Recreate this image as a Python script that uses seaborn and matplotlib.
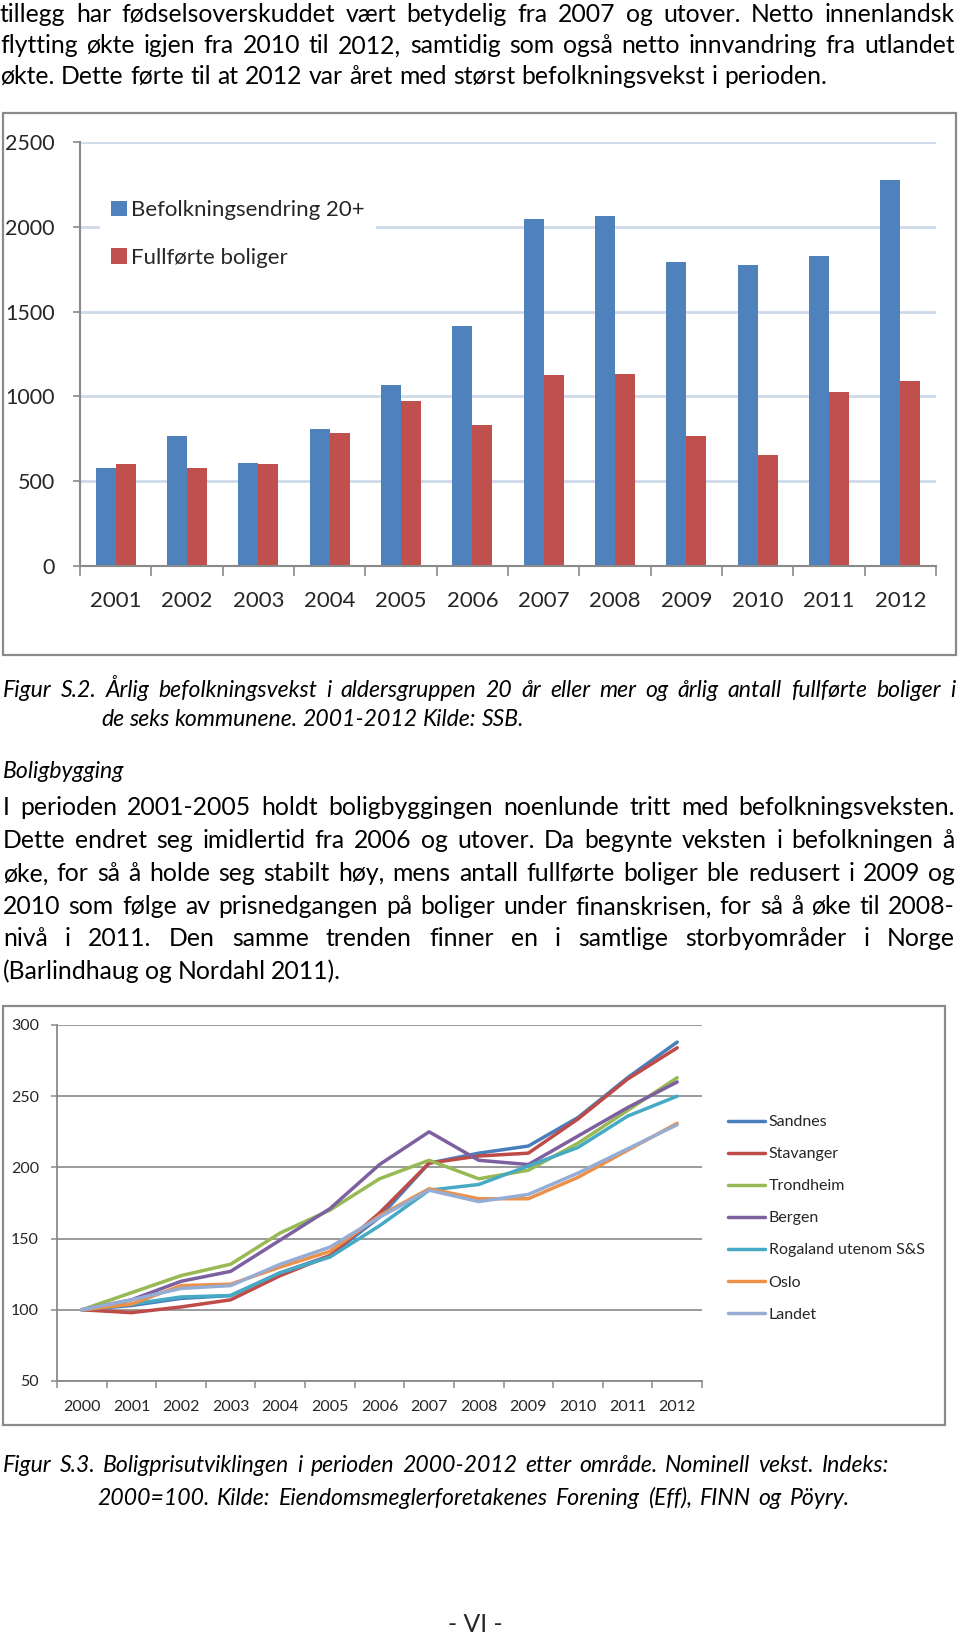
import numpy as np
import pandas as pd
import matplotlib
matplotlib.use("Agg")
import matplotlib.pyplot as plt
import seaborn as sns
from matplotlib.patches import Rectangle

# ---- data: figure S.2 (bars) ----
bar_years = ["2001", "2002", "2003", "2004", "2005", "2006",
             "2007", "2008", "2009", "2010", "2011", "2012"]
befolkning = [580, 765, 610, 810, 1070, 1415, 2045, 2065, 1795, 1775, 1830, 2275]
boliger = [600, 580, 600, 785, 970, 830, 1125, 1135, 765, 657, 1025, 1090]
bar_series = ["Befolkningsendring 20+", "Fullførte boliger"]

# ---- data: figure S.3 (lines), index 2000=100 ----
line_years = [2000, 2001, 2002, 2003, 2004, 2005, 2006,
              2007, 2008, 2009, 2010, 2011, 2012]
sandnes = [100, 103, 108, 110, 126, 138, 165, 203, 210, 215, 235, 263, 288]
stavanger = [100, 98, 102, 107, 124, 138, 168, 203, 208, 210, 234, 262, 284]
trondheim = [100, 112, 124, 132, 154, 170, 192, 205, 192, 198, 217, 240, 263]
bergen = [100, 107, 120, 127, 149, 171, 202, 225, 205, 202, 222, 242, 260]
rogaland = [100, 104, 109, 110, 126, 137, 159, 184, 188, 201, 214, 236, 250]
oslo = [100, 104, 117, 118, 130, 141, 166, 185, 178, 178, 193, 212, 231]
landet = [100, 107, 115, 117, 132, 144, 165, 184, 176, 181, 196, 213, 230]
areas = ["Sandnes", "Stavanger", "Trondheim", "Bergen",
         "Rogaland utenom S&S", "Oslo", "Landet"]
area_colors = ["#4a7ebb", "#be4b48", "#98b954", "#7d60a0",
               "#46aac5", "#ee9148", "#95acd4"]

sns.set_theme(style="white")
plt.rcParams["font.family"] = ["Lato", "DejaVu Sans"]

W, H = 960, 1637
fig = plt.figure(figsize=(W / 100, H / 100), dpi=100)
fig.patch.set_facecolor("white")


def fx(x):
    return x / W


def fy(y):
    return 1 - y / H


renderer = fig.canvas.get_renderer()


def text_width(s, size, style="normal"):
    t = fig.text(0, 0, s, fontsize=size, style=style)
    w = t.get_window_extent(renderer).width
    t.remove()
    return w


# font sizes chosen so that unjustified last lines get their natural width
body_size = 10 * 827 / text_width(
    "økte. Dette førte til at 2012 var året med størst befolkningsvekst i perioden.", 10)
cap_size = 10 * 423 / text_width("de seks kommunene. 2001-2012 Kilde: SSB.", 10, "italic")


def put_line(text, x0, x1, y, size=None, style="normal"):
    # place a line of words, spread so it runs from x0 to x1 (pixels); y = line centre
    if size is None:
        size = cap_size if style == "italic" else body_size
    words = text.split(" ")
    items = []
    for w in words:
        t = fig.text(0, 0, w, fontsize=size, style=style, va="baseline",
                     ha="left", color="black")
        items.append((t, t.get_window_extent(renderer).width))
    total = sum(wd for _, wd in items)
    gap = (x1 - x0 - total) / max(len(items) - 1, 1)
    x = x0
    base = y + size * 100 / 72 * 0.33
    for t, wd in items:
        t.set_position((fx(x), fy(base)))
        x += wd + gap


# ---- body text ----
put_line("tillegg har fødselsoverskuddet vært betydelig fra 2007 og utover. Netto innenlandsk", 0, 955, 14)
put_line("flytting økte igjen fra 2010 til 2012, samtidig som også netto innvandring fra utlandet", 0, 955, 45)
put_line("økte. Dette førte til at 2012 var året med størst befolkningsvekst i perioden.", 0, 827, 76)

put_line("Figur S.2. Årlig befolkningsvekst i aldersgruppen 20 år eller mer og årlig antall fullførte boliger i",
         3, 955, 689, style="italic")
put_line("de seks kommunene. 2001-2012 Kilde: SSB.", 101, 524, 718, style="italic")
put_line("Boligbygging", 3, 141, 770, style="italic")

put_line("I perioden 2001-2005 holdt boligbyggingen noenlunde tritt med befolkningsveksten.", 3, 955, 807)
put_line("Dette endret seg imidlertid fra 2006 og utover. Da begynte veksten i befolkningen å", 3, 955, 840)
put_line("øke, for så å holde seg stabilt høy, mens antall fullførte boliger ble redusert i 2009 og", 3, 955, 873)
put_line("2010 som følge av prisnedgangen på boliger under finanskrisen, for så å øke til 2008-", 3, 955, 906)
put_line("nivå i 2011. Den samme trenden finner en i samtlige storbyområder i Norge", 3, 955, 938)
put_line("(Barlindhaug og Nordahl 2011).", 3, 341, 971)

put_line("Figur S.3. Boligprisutviklingen i perioden 2000-2012 etter område. Nominell vekst. Indeks:",
         3, 889, 1464, style="italic")
put_line("2000=100. Kilde: Eiendomsmeglerforetakenes Forening (Eff), FINN og Pöyry.",
         97, 850, 1497, style="italic")
fig.text(fx(475), fy(1625), "- VI -", fontsize=body_size, ha="center", va="center")

# chart frames
for (x0, y0, x1, y1) in [(3, 113, 956, 655), (3, 1006, 945, 1425)]:
    fig.patches.append(Rectangle((fx(x0), fy(y1)), (x1 - x0) / W, (y1 - y0) / H,
                                 transform=fig.transFigure, fill=False,
                                 edgecolor="#8a8a8a", lw=1.6, zorder=0))

# ---- bar chart ----
bar_df = pd.DataFrame({
    "år": bar_years * 2,
    "verdi": befolkning + boliger,
    "serie": [bar_series[0]] * len(bar_years) + [bar_series[1]] * len(bar_years),
})
ax1 = fig.add_axes([fx(80), fy(566), (936 - 80) / W, (566 - 142) / H])
sns.barplot(data=bar_df, x="år", y="verdi", hue="serie", hue_order=bar_series,
            palette=["#4f81bd", "#c0504d"], width=0.56, saturation=1,
            linewidth=0, ax=ax1)
ax1.set_xlim(-0.5, 11.5)
ax1.set_ylim(0, 2500)
ax1.set_yticks(range(0, 2501, 500))
ax1.yaxis.grid(True, color="#cddaea", lw=2)
ax1.set_axisbelow(True)
ax1.set_xlabel("")
ax1.set_ylabel("")
for s in ["top", "right"]:
    ax1.spines[s].set_visible(False)
for s in ["left", "bottom"]:
    ax1.spines[s].set_color("#8a8a8a")
    ax1.spines[s].set_linewidth(1.5)
ax1.set_xticks(np.arange(-0.5, 12, 1), minor=True)
ax1.tick_params(axis="x", which="minor", length=7, width=1.2, color="#8a8a8a", bottom=True)
ax1.tick_params(axis="x", which="major", length=0, pad=18, labelsize=16)
ax1.tick_params(axis="y", length=5, width=1.2, color="#8a8a8a", left=True, pad=13, labelsize=15.5)
h, l = ax1.get_legend_handles_labels()
leg = ax1.legend(h, l, loc="upper left", bbox_to_anchor=(fx(100), fy(189)),
                 bbox_transform=fig.transFigure, fontsize=16, frameon=True,
                 facecolor="white", edgecolor="none", framealpha=1, fancybox=False,
                 handlelength=0.7, handleheight=0.7, handletextpad=0.2,
                 labelspacing=1.25, borderpad=0.5, borderaxespad=0)

# ---- line chart ----
line_df = pd.DataFrame({
    "år": line_years * len(areas),
    "indeks": sandnes + stavanger + trondheim + bergen + rogaland + oslo + landet,
    "område": [a for a in areas for _ in line_years],
})
ax2 = fig.add_axes([fx(57), fy(1381), 645 / W, (1381 - 1025) / H])
sns.lineplot(data=line_df, x="år", y="indeks", hue="område", hue_order=areas,
             palette=area_colors, linewidth=2.5, ax=ax2)
ax2.set_xlim(1999.5, 2012.5)
ax2.set_ylim(50, 300)
ax2.set_yticks(range(50, 301, 50))
ax2.set_xticks(line_years)
ax2.set_xticklabels([str(y) for y in line_years])
ax2.yaxis.grid(True, color="#9a9a9a", lw=1.4)
ax2.set_axisbelow(True)
ax2.set_xlabel("")
ax2.set_ylabel("")
for s in ["top", "right"]:
    ax2.spines[s].set_visible(False)
for s in ["left", "bottom"]:
    ax2.spines[s].set_color("#8a8a8a")
    ax2.spines[s].set_linewidth(1.3)
ax2.set_xticks(np.arange(1999.5, 2013, 1), minor=True)
ax2.tick_params(axis="x", which="minor", length=5, width=1.1, color="#8a8a8a", bottom=True)
ax2.tick_params(axis="x", which="major", length=0, pad=14, labelsize=11.5)
ax2.tick_params(axis="y", length=4, width=1.1, color="#8a8a8a", left=True, pad=9, labelsize=11.5)
h, l = ax2.get_legend_handles_labels()
ax2.legend(h, l, loc="upper left", bbox_to_anchor=(fx(728), fy(1115)),
           bbox_transform=fig.transFigure, fontsize=11.5, frameon=False,
           handlelength=2.3, handletextpad=0.25, labelspacing=1.12,
           borderpad=0, borderaxespad=0)

fig.savefig("out.png", dpi=100)
